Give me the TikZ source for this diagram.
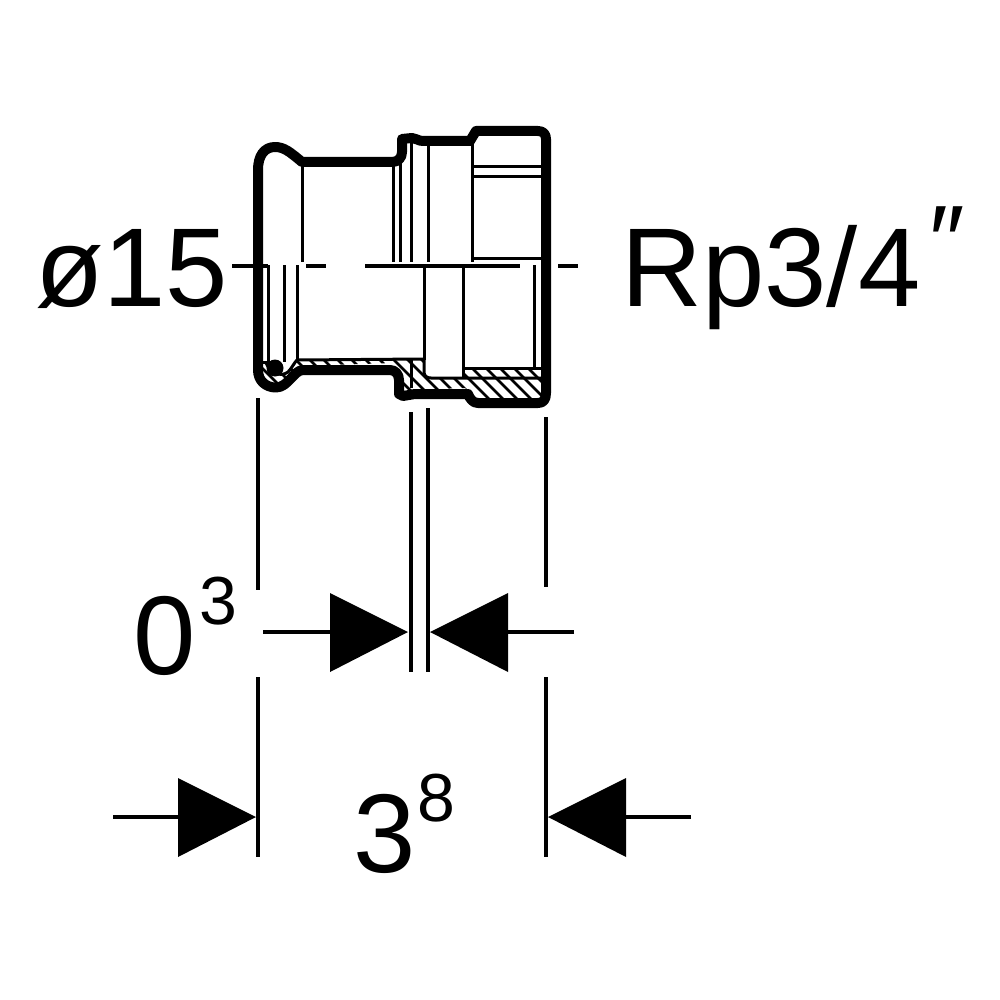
\documentclass[tikz,border=0pt]{standalone}
\usepackage{fontspec}
\setmainfont{Liberation Sans}
\tikzset{
 wall/.style={line width=10pt,line join=round,line cap=round},
 thin/.style={line width=3pt},
 med/.style={line width=4pt},
 hatch/.style={line width=2.5pt},
 dim/.style={line width=4pt},
 head/.style={fill=black,draw=none},
 lab/.style={font=\fontsize{112}{112}\selectfont,anchor=base west,inner sep=0pt,outer sep=0pt},
 prime/.style={font=\fontsize{100}{100}\selectfont,anchor=base west,inner sep=0pt,outer sep=0pt},
 sup/.style={font=\fontsize{68}{68}\selectfont,anchor=base west,inner sep=0pt,outer sep=0pt}
}
\begin{document}
\begin{tikzpicture}[x=1pt,y=-1pt]
\useasboundingbox (0,0) rectangle (1000,1000);
% hatching
\begin{scope}
\clip (297,360) -- (424,359) -- (424,373) -- (430,378) -- (463,378) -- (463,368) -- (541,368) -- (541,398) -- (475,398) -- (465,388) -- (405,390) -- (392,363) -- (302,366) -- (285,386) -- (270,386) -- (262,370) -- (264,362)
 .. controls (270,372) and (280,378) .. (288,372) .. controls (292,368) and (294,363) .. (297,360) -- cycle;
\foreach \i in {0,...,26} {
  \draw[hatch] ({244+\i*14},350) -- ({294+\i*14},400);
}
\end{scope}
\draw[thin] (263,362) -- (271,362);
\draw[thin] (266,363) .. controls (270,372) and (280,378) .. (288,372) .. controls (292,368) and (294,363) .. (297,360);
\draw[thin] (297,360) -- (424,359);
\draw[thin] (463,368) -- (542,368);
\draw[thin] (424,359) -- (424,372) .. controls (424,376) and (427,378) .. (431,378) -- (463,378) -- (542,378);
\draw[thin] (411,359) -- (411,388);
% inner verticals
\draw[thin] (302,162) -- (302,262)
 (393,165) -- (393,262)
 (400,150) -- (400,262)
 (411,142) -- (411,262)
 (428,142) -- (428,262)
 (472,142) -- (472,262)
 (472,167) -- (542,167)
 (472,177) -- (542,177)
 (472,258) -- (542,258)
 (268,265) -- (268,362)
 (284,265) -- (284,362)
 (297,265) -- (297,360)
 (424,266) -- (424,360)
 (463,266) -- (463,378)
 (534,265) -- (534,368);
% centre line
\draw[med] (232,266) -- (268,266) (306,266) -- (326,266) (365,266) -- (520,266) (558,266) -- (578,266);
% outer contour
\draw[wall] (258,265) -- (258,170) .. controls (258,156) and (264,147) .. (275,147)
 .. controls (284,147) and (290,152) .. (302,162) -- (392,162)
 .. controls (398,162) and (402,158) .. (402,152) -- (402,139) -- (412,138)
 .. controls (416,138) and (418,141) .. (423,141) -- (470,141) -- (476,131) -- (538,131)
 .. controls (543,131) and (546,134) .. (546,139) -- (546,393)
 .. controls (546,400) and (543,403) .. (538,403) -- (478,403)
 .. controls (473,403) and (470,399) .. (468,394) -- (415,394) -- (403,396) -- (399,394) -- (399,380)
 .. controls (399,374) and (395,370) .. (390,370) -- (303,370)
 .. controls (294,370) and (288,387.5) .. (276,387.5)
 .. controls (266,387.5) and (258,381) .. (258,370) -- (258,265);
\fill (275,368) circle (8.5);
% extension lines
\draw[dim] (258,398) -- (258,590) (258,677) -- (258,857)
 (411,412) -- (411,672) (428,408) -- (428,672)
 (546,417) -- (546,587) (546,677) -- (546,857);
% dimensions
\coordinate (a1) at (263,632); \coordinate (a2) at (408,632);
\coordinate (b1) at (574,632); \coordinate (b2) at (430,632);
\coordinate (c1) at (113,817); \coordinate (c2) at (256,817);
\coordinate (d1) at (691,817); \coordinate (d2) at (548,817);
\draw[dim] (a1) -- (335,632) (b1) -- (503,632) (c1) -- (183,817) (d1) -- (621,817);
\fill[head] (a2) -- (330,593) -- (330,672) -- cycle;
\fill[head] (b2) -- (508,593) -- (508,672) -- cycle;
\fill[head] (c2) -- (178,778) -- (178,857) -- cycle;
\fill[head] (d2) -- (626,778) -- (626,857) -- cycle;
% labels
\node[lab] (t1) at (35,306) {ø15};
\node[lab] (t2) at (621.5,306) {Rp3/4};
\node[prime] (t2b) at (929,275) {″};
\node[lab] (t3) at (133,674) {0};
\node[sup] (t3s) at (199.5,624) {3};
\node[lab] (t4) at (353.5,872) {3};
\node[sup] (t4s) at (417,821) {8};
\end{tikzpicture}
\end{document}
